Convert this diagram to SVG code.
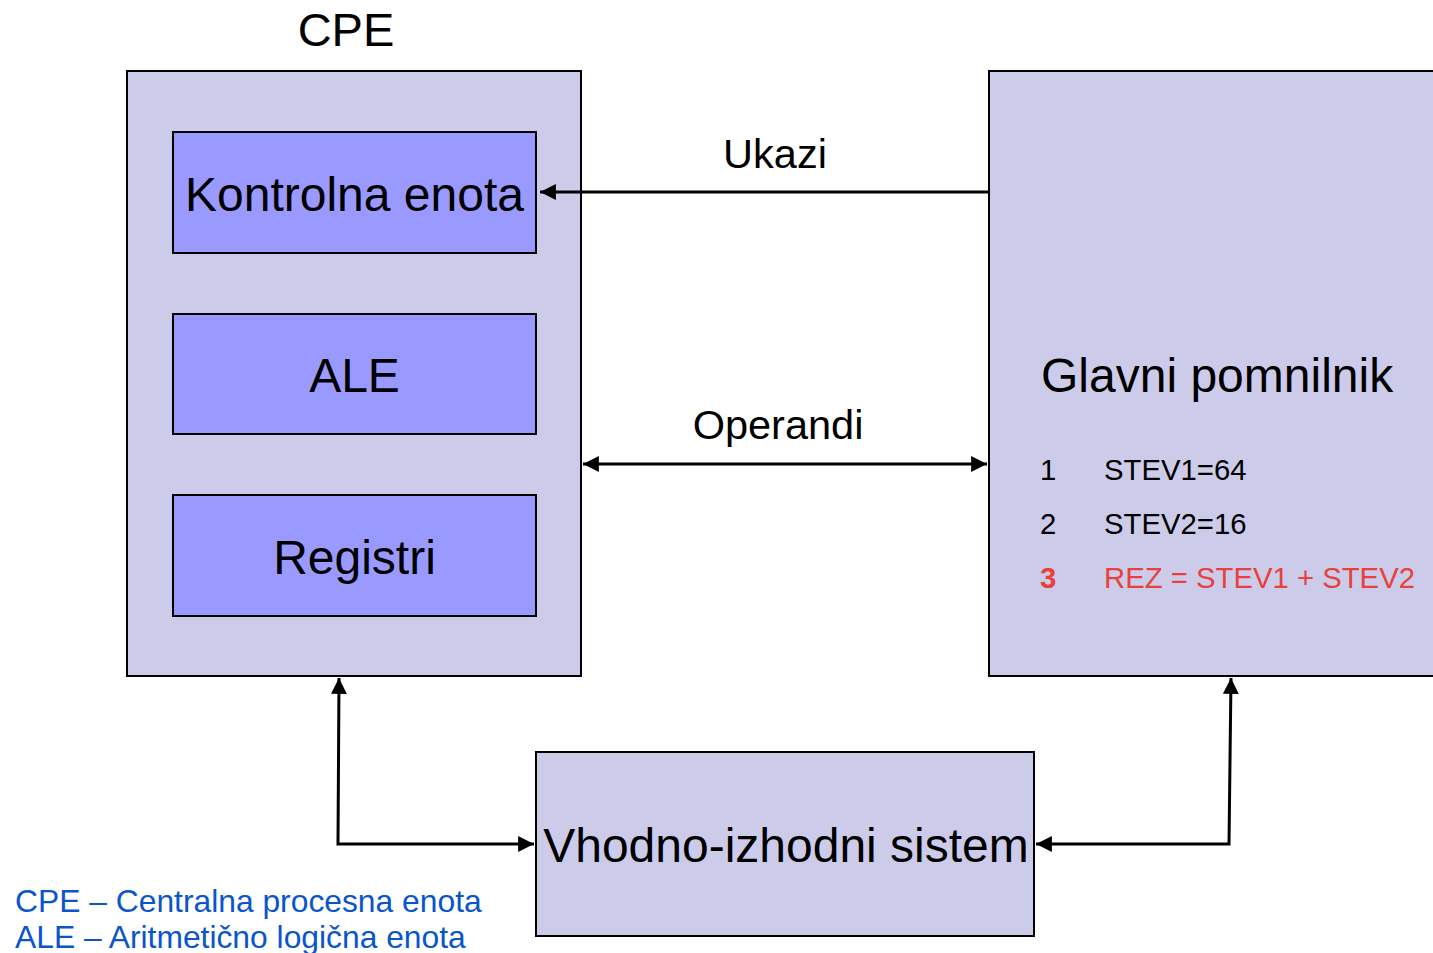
<svg xmlns="http://www.w3.org/2000/svg" width="1433" height="953" viewBox="0 0 1433 953">
<style>
text{font-family:"Liberation Sans",Arial,sans-serif;}
.outer{fill:#ccccea;stroke:#000;stroke-width:2;}
.inner{fill:#9999ff;stroke:#000;stroke-width:2;}
.big{font-size:48px;fill:#000;}
.lbl{font-size:41.5px;fill:#000;}
.mem{font-size:29.3px;fill:#000;}
.red{fill:#e8413b;}
.leg{font-size:31.8px;fill:#0a55cc;}
.con{fill:none;stroke:#000;stroke-width:3;}
</style>
<defs>
<marker id="ah" viewBox="0 0 10 10" refX="10" refY="5" markerWidth="5.3" markerHeight="5.3" orient="auto-start-reverse" markerUnits="strokeWidth">
<path d="M0,0 L10,5 L0,10 z" fill="#000"/>
</marker>
</defs>
<text x="346" y="46" text-anchor="middle" style="font-size:47px">CPE</text>
<g id="cpe"><rect class="outer" x="127" y="71" width="454" height="605"/></g>
<g id="kontrolna"><rect class="inner" x="173" y="132" width="363" height="121"/><text class="big" x="354.5" y="211" text-anchor="middle">Kontrolna enota</text></g>
<g id="ale"><rect class="inner" x="173" y="314" width="363" height="120"/><text class="big" x="354.5" y="392" text-anchor="middle">ALE</text></g>
<g id="registri"><rect class="inner" x="173" y="495" width="363" height="121"/><text class="big" x="354.5" y="574" text-anchor="middle">Registri</text></g>
<g id="pomnilnik"><rect class="outer" x="989" y="71" width="460" height="605"/>
<text class="big" x="1041" y="392">Glavni pomnilnik</text>
<text class="mem" x="1040" y="480">1</text><text class="mem" x="1104" y="480">STEV1=64</text>
<text class="mem" x="1040" y="534">2</text><text class="mem" x="1104" y="534">STEV2=16</text>
<text class="mem red" x="1040" y="588" font-weight="bold">3</text><text class="mem red" x="1104" y="588">REZ = STEV1 + STEV2</text>
</g>
<g id="io"><rect class="outer" x="536" y="752" width="498" height="184"/><text class="big" x="786" y="862" text-anchor="middle">Vhodno-izhodni sistem</text></g>
<g id="connectors">
<path class="con" d="M989,192 L540,192" marker-end="url(#ah)"/>
<text class="lbl" x="775" y="168" text-anchor="middle">Ukazi</text>
<path class="con" d="M583,464 L987,464" marker-start="url(#ah)" marker-end="url(#ah)"/>
<text class="lbl" x="778" y="439" text-anchor="middle">Operandi</text>
<path class="con" d="M534,844 L338,844 L339,678" marker-start="url(#ah)" marker-end="url(#ah)"/>
<path class="con" d="M1036,844 L1229,844 L1231,678" marker-start="url(#ah)" marker-end="url(#ah)"/>
</g>
<g id="legend">
<text class="leg" x="15" y="912">CPE – Centralna procesna enota</text>
<text class="leg" x="15" y="948">ALE – Aritmetično logična enota</text>
</g>
</svg>
